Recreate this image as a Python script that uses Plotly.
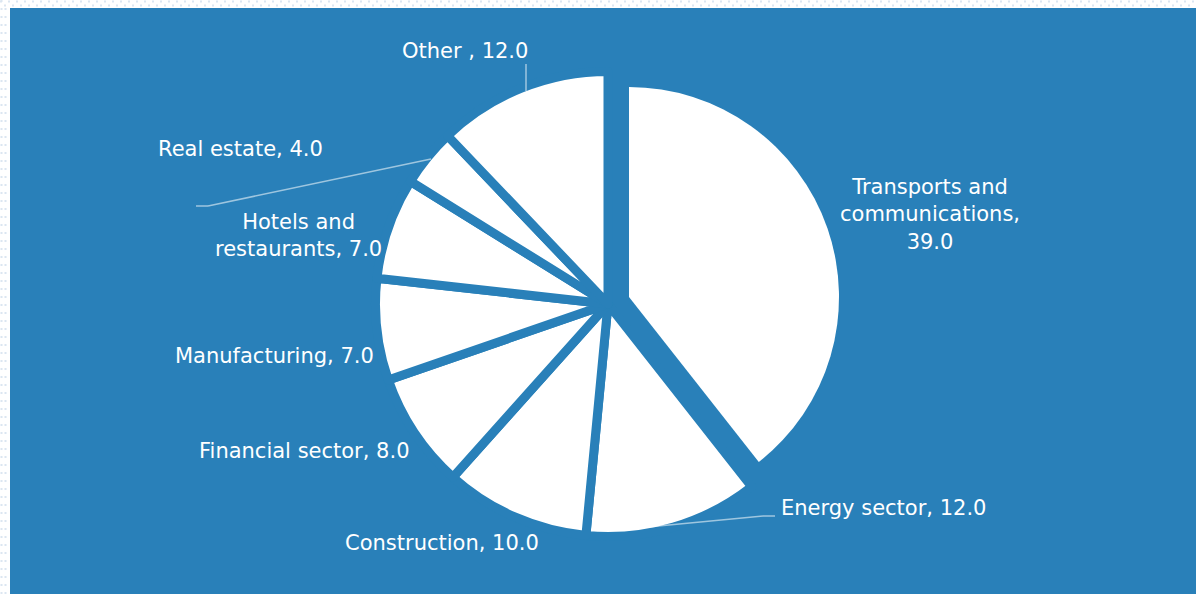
import plotly.graph_objects as go

# ---- data ----
categories = ["Transports and communications", "Energy sector", "Construction",
              "Financial sector", "Manufacturing", "Hotels and restaurants",
              "Real estate", "Other "]
values = [39.0, 12.0, 10.0, 8.0, 7.0, 7.0, 4.0, 12.0]
label_display = ["Transports and<br>communications", "Energy sector", "Construction",
                 "Financial sector", "Manufacturing", "Hotels and<br>restaurants",
                 "Real estate", "Other "]
label_sep = [",<br>", ", ", ", ", ", ", ", ", ", ", ", ", ", "]

# ---- layout constants ----
W, H = 1196, 594
BLUE = "#2980b9"
FONT = "DejaVu Sans"
LINE = "rgba(255,255,255,0.55)"

# label centres (px, from top-left)
label_pos = [(930, 214), (883, 508), (442, 543), (304, 451),
             (274, 356), (298, 236), (240, 149), (465, 51)]


def px(x):
    return x / W


def py(y):
    return 1 - y / H


def domain(cx, cy, r):
    return dict(x=[px(cx - r), px(cx + r)], y=[py(cy + r), py(cy - r)])


fig = go.Figure()

n = len(values)
# main pie: every slice except the exploded first one
fig.add_trace(go.Pie(
    labels=categories, values=values, sort=False, direction="clockwise", rotation=0,
    marker=dict(colors=["rgba(0,0,0,0)"] + ["white"] * (n - 1),
                line=dict(color=BLUE, width=[0] + [9] * (n - 1))),
    textinfo="none", hoverinfo="skip", showlegend=False,
    domain=domain(608, 304, 232.5),
))
# exploded slice
fig.add_trace(go.Pie(
    labels=categories, values=values, sort=False, direction="clockwise", rotation=0,
    marker=dict(colors=["white"] + ["rgba(0,0,0,0)"] * (n - 1),
                line=dict(width=0)),
    textinfo="none", hoverinfo="skip", showlegend=False,
    domain=domain(629, 297, 210),
))

shapes = []
# blue panel
shapes.append(dict(type="rect", xref="paper", yref="paper", x0=px(10), x1=1, y0=0, y1=py(8),
                   fillcolor=BLUE, line=dict(width=0), layer="below"))
# dotted frame
dot = dict(color="#dbe6f1", width=2, dash="2px,6px")
shapes.append(dict(type="line", xref="paper", yref="paper", x0=0, x1=1, y0=py(1.5), y1=py(1.5), line=dot, layer="below"))
shapes.append(dict(type="line", xref="paper", yref="paper", x0=px(4), x1=1, y0=py(5.5), y1=py(5.5), line=dot, layer="below"))
shapes.append(dict(type="line", xref="paper", yref="paper", x0=px(1.5), x1=px(1.5), y0=0, y1=1, line=dot, layer="below"))
shapes.append(dict(type="line", xref="paper", yref="paper", x0=px(5.5), x1=px(5.5), y0=0, y1=py(4), line=dot, layer="below"))

# leader lines
leaders = [
    [(526, 64), (526, 91)],
    [(431, 159), (208, 206), (196, 206)],
    [(648, 527), (763, 516), (775, 516)],
]
for pts in leaders:
    for (x0, y0), (x1, y1) in zip(pts[:-1], pts[1:]):
        shapes.append(dict(type="line", xref="paper", yref="paper",
                           x0=px(x0), y0=py(y0), x1=px(x1), y1=py(y1),
                           line=dict(color=LINE, width=1.5)))

annotations = []
for disp, sep, v, (x, y) in zip(label_display, label_sep, values, label_pos):
    annotations.append(dict(
        text=f"{disp}{sep}{v:.1f}", xref="paper", yref="paper", x=px(x), y=py(y),
        xanchor="center", yanchor="middle", showarrow=False, align="center",
        font=dict(family=FONT, size=21, color="white"),
    ))

fig.update_layout(
    width=W, height=H, margin=dict(l=0, r=0, t=0, b=0),
    paper_bgcolor="white", showlegend=False,
    shapes=shapes, annotations=annotations,
)

fig.write_html("out.html")
